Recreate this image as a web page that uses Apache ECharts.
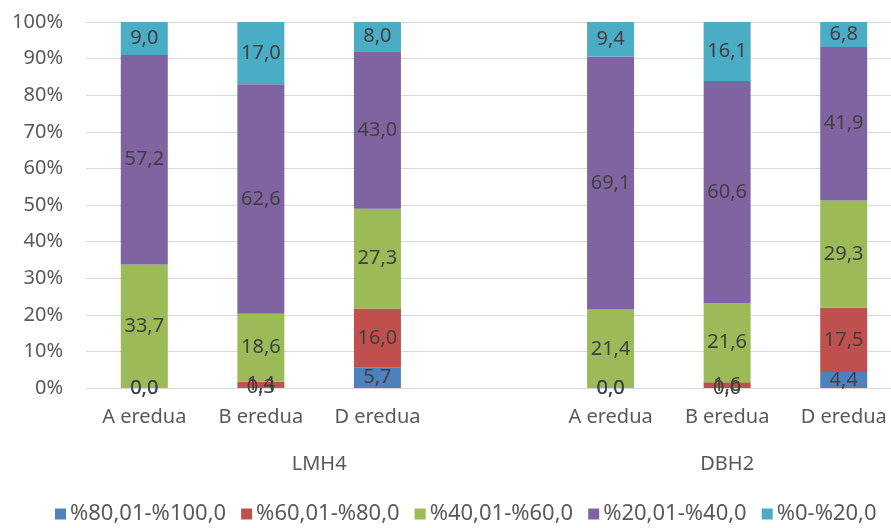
<!DOCTYPE html>
<html><head><meta charset="utf-8">
<script src="https://cdn.jsdelivr.net/npm/echarts@6/dist/echarts.min.js"></script>
<style>html,body{margin:0;padding:0;background:#fff;overflow:hidden}#c{width:910px;height:528px}</style>
</head><body><div id="c"></div>
<script>
const categories = ['A eredua','B eredua','D eredua','','A eredua','B eredua','D eredua'];
const groups = ['LMH4','DBH2'];
const groupSpans = [[0,3],[4,6]];
const seriesNames = ['%80,01-%100,0','%60,01-%80,0','%40,01-%60,0','%20,01-%40,0','%0-%20,0'];
const colors = ['#4f81bd','#c0504d','#9bbb59','#8064a2','#4bacc6'];
const s80_100 = [0.0, 0.3, 5.7, null, 0.0, 0.0, 4.4];
const s60_80  = [0.0, 1.4, 16.0, null, 0.0, 1.6, 17.5];
const s40_60  = [33.7, 18.6, 27.3, null, 21.4, 21.6, 29.3];
const s20_40  = [57.2, 62.6, 43.0, null, 69.1, 60.6, 41.9];
const s0_20   = [9.0, 17.0, 8.0, null, 9.4, 16.1, 6.8];
const yTicks = [0,10,20,30,40,50,60,70,80,90,100];

const all = [s80_100, s60_80, s40_60, s20_40, s0_20];
const totals = categories.map((c,i)=> all.reduce((a,s)=>a+(s[i]||0),0));
const FONT = 'Noto Sans';
const chart = echarts.init(document.getElementById('c'), null, {renderer:'canvas'});
const series = all.map((arr,k)=>({
  name: seriesNames[k], type:'bar', stack:'t', barWidth:47,
  itemStyle:{color:colors[k]},
  data: arr.map((v,i)=> v===null ? '-' : {value: v/totals[i]*100, raw:v}),
  label:{show:true, position:'inside', color:'#404040', fontSize:20, fontFamily:FONT,
    formatter: p => p.data.raw.toFixed(1).replace('.',',')}
}));
chart.setOption({
  animation:false,
  textStyle:{fontFamily:FONT},
  grid:{left:86, top:22, height:366, width:816},
  xAxis:{type:'category', data:categories,
    axisLine:{lineStyle:{color:'#d9d9d9', width:1}}, axisTick:{show:false},
    axisLabel:{color:'#595959', fontSize:20, fontFamily:FONT, margin:19, interval:0}},
  yAxis:{type:'value', min:yTicks[0], max:yTicks[yTicks.length-1], interval:10,
    axisLabel:{color:'#595959', fontSize:20, fontFamily:FONT, margin:23, formatter: v=> v+'%'},
    splitLine:{lineStyle:{color:'#d9d9d9', width:1}}, axisLine:{show:false}, axisTick:{show:false}},
  legend:{top:503, left:55, itemWidth:11, itemHeight:11, itemGap:15, icon:'rect', padding:0,
    textStyle:{color:'#595959', fontSize:22, fontFamily:FONT, padding:[0,0,0,-1]}, data:seriesNames},
  series
});
const y = 464;
const g = groups.map((name,i)=>{
  const a = chart.convertToPixel({xAxisIndex:0}, groupSpans[i][0]);
  const b = chart.convertToPixel({xAxisIndex:0}, groupSpans[i][1]);
  return {type:'text', x:(a+b)/2, y:y, style:{text:name, fill:'#595959', font:'20px "Noto Sans"', align:'center', verticalAlign:'middle'}};
});
chart.setOption({graphic:g});
</script></body></html>
